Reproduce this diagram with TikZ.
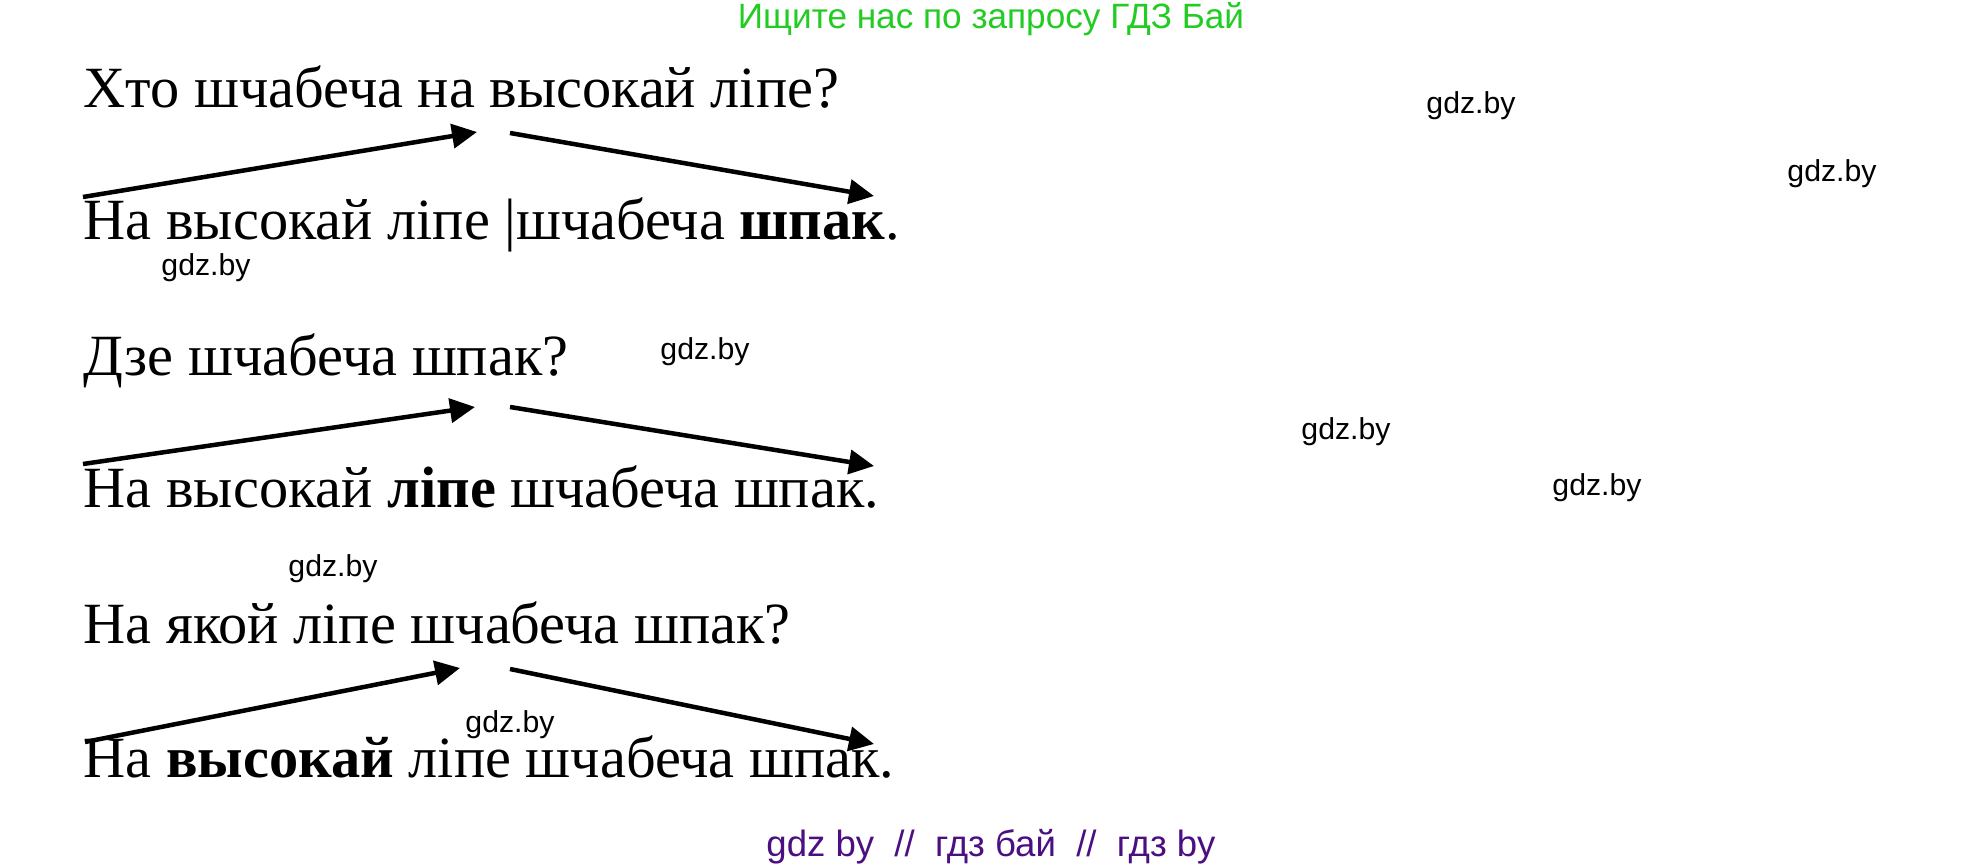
\documentclass[tikz,border=0pt]{standalone}
\usepackage{fontspec}
\setmainfont{Liberation Serif}
\newfontfamily\wmfont{Liberation Sans}
\usetikzlibrary{arrows.meta}
\begin{document}
\begin{tikzpicture}[x=0.01cm,y=-0.01cm,
    sentence/.style={anchor=base west,inner sep=0pt,font=\fontsize{16.6pt}{18pt}\selectfont},
    wm/.style={inner sep=0pt,font=\wmfont\fontsize{8.6pt}{10pt}\selectfont},
    banner/.style={anchor=base,inner sep=0pt,font=\wmfont\fontsize{10pt}{11pt}\selectfont},
    arr/.style={line width=0.045cm,-{Triangle[length=0.25cm,width=0.24cm]}}]
    \definecolor{gdz_green}{RGB}{34,204,34}
    \definecolor{gdz_purple}{RGB}{75,15,130}
    \useasboundingbox[fill=white] (0,0) rectangle (1984,867);
    \node[banner,text=gdz_green] (top) at (991,29) {Ищите нас по запросу ГДЗ Бай};
    \node[sentence] (q1) at (83,108) {Хто шчабеча на высокай ліпе?};
    \node[sentence] (a1) at (83,240) {На высокай ліпе |шчабеча \textbf{шпак}.};
    \node[sentence] (q2) at (83,376) {Дзе шчабеча шпак?};
    \node[sentence] (a2) at (83,508) {На высокай \textbf{ліпе} шчабеча шпак.};
    \node[sentence] (q3) at (83,643) {На якой ліпе шчабеча шпак?};
    \node[sentence] (a3) at (83,777) {На \textbf{высокай} ліпе шчабеча шпак.};
    \node[banner,text=gdz_purple,font=\wmfont\fontsize{10.4pt}{12pt}\selectfont] (bottom) at (991,856) {gdz by\ \ //\ \ гдз бай\ \ //\ \ гдз by};
    \coordinate (s1) at (83,197);
    \coordinate (m1) at (477,132);
    \coordinate (n1) at (510,133);
    \coordinate (e1) at (874,196);
    \coordinate (s2) at (83,464);
    \coordinate (m2) at (475,407);
    \coordinate (n2) at (510,407);
    \coordinate (e2) at (874,466);
    \coordinate (s3) at (85,742);
    \coordinate (m3) at (460,668);
    \coordinate (n3) at (510,669);
    \coordinate (e3) at (874,744);
    \draw[arr] (s1) -- (m1);
    \draw[arr] (n1) -- (e1);
    \draw[arr] (s2) -- (m2);
    \draw[arr] (n2) -- (e2);
    \draw[arr] (s3) -- (m3);
    \draw[arr] (n3) -- (e3);
    \node[wm] (w1) at (1471,106) {gdz.by};
    \node[wm] (w2) at (1832,174) {gdz.by};
    \node[wm] (w3) at (206,268) {gdz.by};
    \node[wm] (w4) at (705,352) {gdz.by};
    \node[wm] (w5) at (1346,432) {gdz.by};
    \node[wm] (w6) at (1597,488) {gdz.by};
    \node[wm] (w7) at (333,569) {gdz.by};
    \node[wm] (w8) at (510,725) {gdz.by};
\end{tikzpicture}
\end{document}
